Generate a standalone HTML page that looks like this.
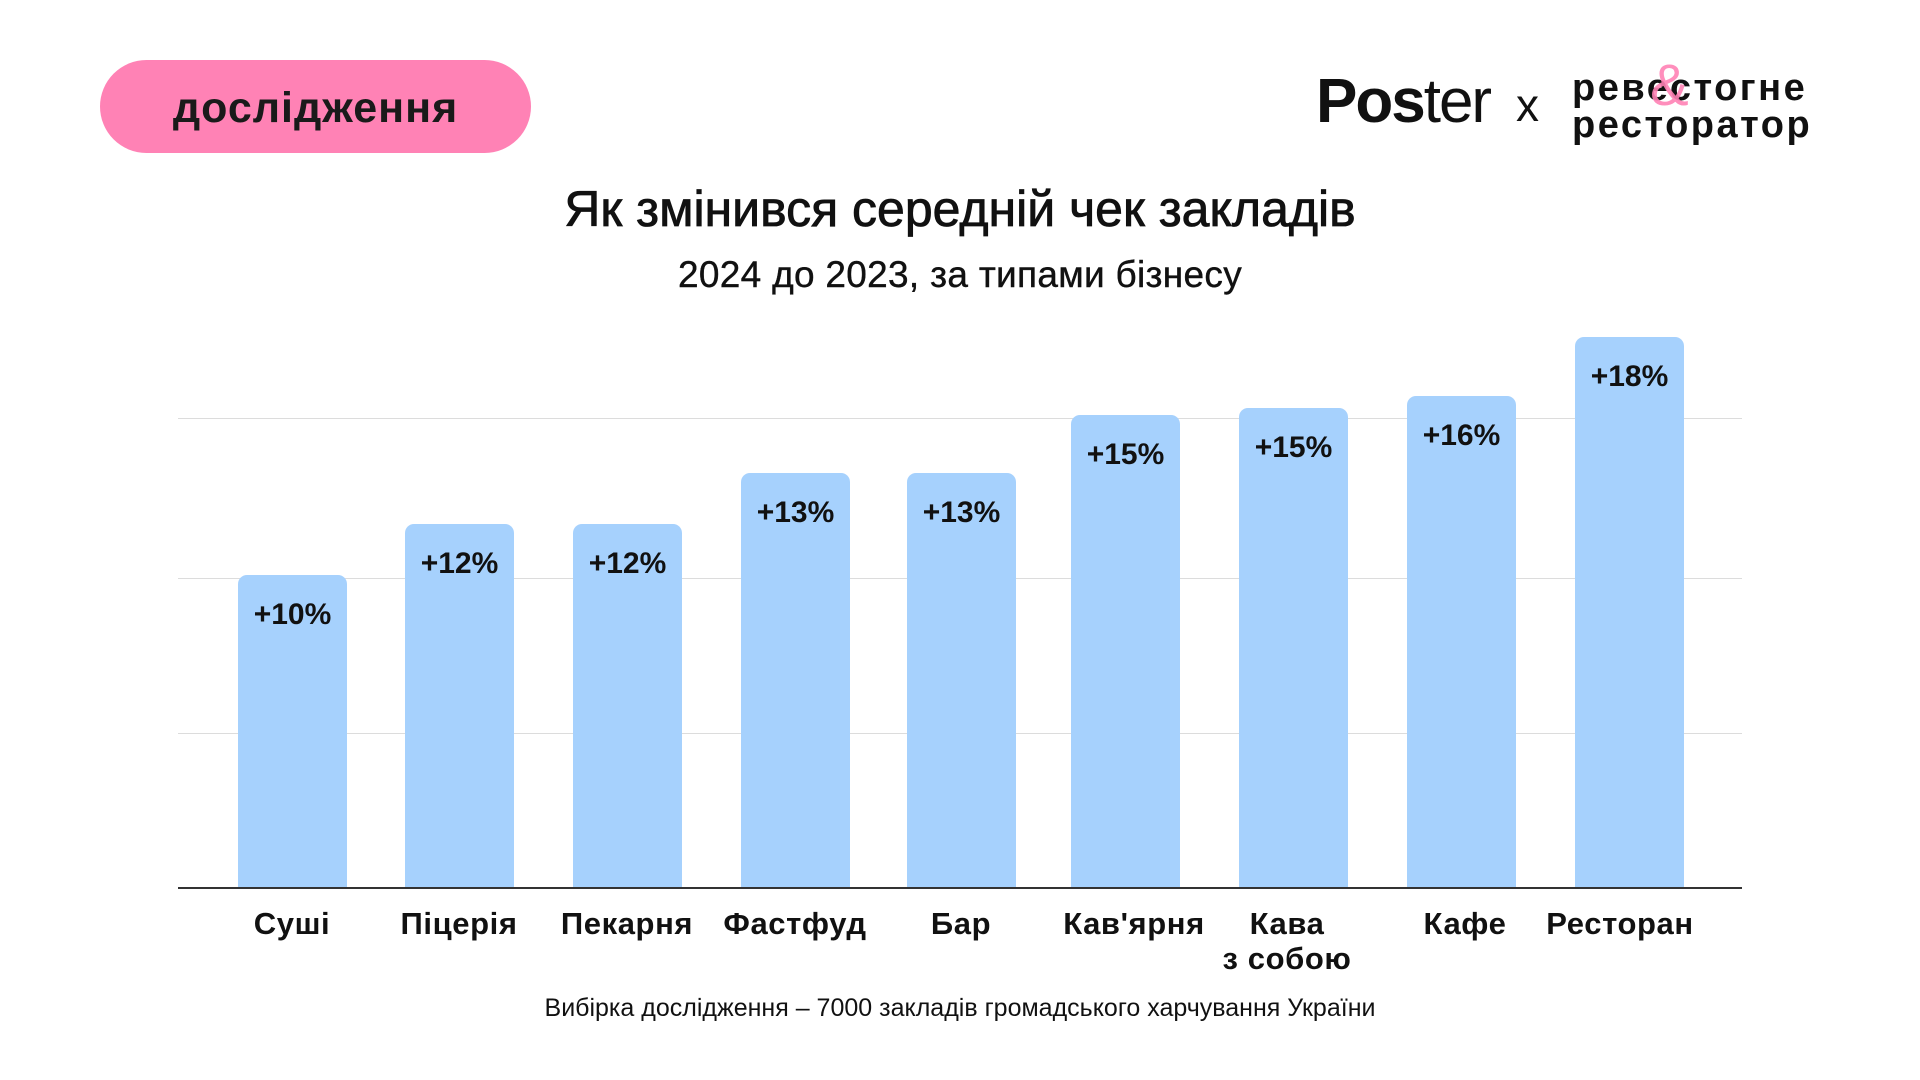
<!DOCTYPE html>
<html><head><meta charset="utf-8"><style>
body{margin:0;width:1920px;height:1080px;background:#fff;position:relative;overflow:hidden;font-family:"Liberation Sans",sans-serif;color:#111}
.a{position:absolute}
.pill{left:100px;top:60px;width:431px;height:93px;border-radius:47px;background:#ff82b5;text-align:center;line-height:97px;font-size:43px;font-weight:bold;letter-spacing:1px;color:#1a1a1a}
.grid{left:178px;width:1564px;height:1px;background:#dcdcdc}
.bar{width:109px;background:#a6d1fd;border-radius:9px 9px 0 0;bottom:192px;text-align:center;font-size:30px;font-weight:bold;color:#111;padding-top:23px;box-sizing:border-box}
.cat{width:240px;text-align:center;font-size:31px;letter-spacing:0.6px;font-weight:bold;line-height:35px;top:906px}
</style></head><body>
<div class="a pill">дослідження</div>
<div class="a" style="left:1316px;top:66px;font-size:62px;letter-spacing:-2px;"><b>Pos</b>ter</div>
<div class="a" style="left:1516px;top:78px;font-size:46px;">x</div>
<div class="a" style="left:1572px;top:70px;font-size:38px;letter-spacing:2.5px;font-weight:bold;line-height:37px;">ревестогне<br>ресторатор</div>
<div class="a" style="left:1650px;top:52px;font-size:58px;color:#ff82b5;opacity:.9">&amp;</div>
<div class="a" style="left:0;width:1920px;top:180px;text-align:center;font-size:50px;-webkit-text-stroke:0.8px #111;">Як змінився середній чек закладів</div>
<div class="a" style="left:0;width:1920px;top:254px;text-align:center;font-size:37px;letter-spacing:0.3px;-webkit-text-stroke:0.4px #111;">2024 до 2023, за типами бізнесу</div>
<div class="a grid" style="top:418px"></div>
<div class="a grid" style="top:578px"></div>
<div class="a grid" style="top:733px"></div>
<div class="a bar" style="left:238px;top:575px">+10%</div>
<div class="a bar" style="left:405px;top:524px">+12%</div>
<div class="a bar" style="left:573px;top:524px">+12%</div>
<div class="a bar" style="left:741px;top:473px">+13%</div>
<div class="a bar" style="left:907px;top:473px">+13%</div>
<div class="a bar" style="left:1071px;top:415px">+15%</div>
<div class="a bar" style="left:1239px;top:408px">+15%</div>
<div class="a bar" style="left:1407px;top:396px">+16%</div>
<div class="a bar" style="left:1575px;top:337px">+18%</div>
<div class="a" style="left:178px;top:887px;width:1564px;height:2px;background:#333"></div>
<div class="a cat" style="left:172px">Суші</div>
<div class="a cat" style="left:339px">Піцерія</div>
<div class="a cat" style="left:507px">Пекарня</div>
<div class="a cat" style="left:675px">Фастфуд</div>
<div class="a cat" style="left:841px">Бар</div>
<div class="a cat" style="left:1014px">Кав'ярня</div>
<div class="a cat" style="left:1167px">Кава<br>з собою</div>
<div class="a cat" style="left:1345px">Кафе</div>
<div class="a cat" style="left:1500px">Ресторан</div>
<div class="a" style="left:0;width:1920px;top:994px;text-align:center;font-size:25px;">Вибірка дослідження – 7000 закладів громадського харчування України</div>
</body></html>
